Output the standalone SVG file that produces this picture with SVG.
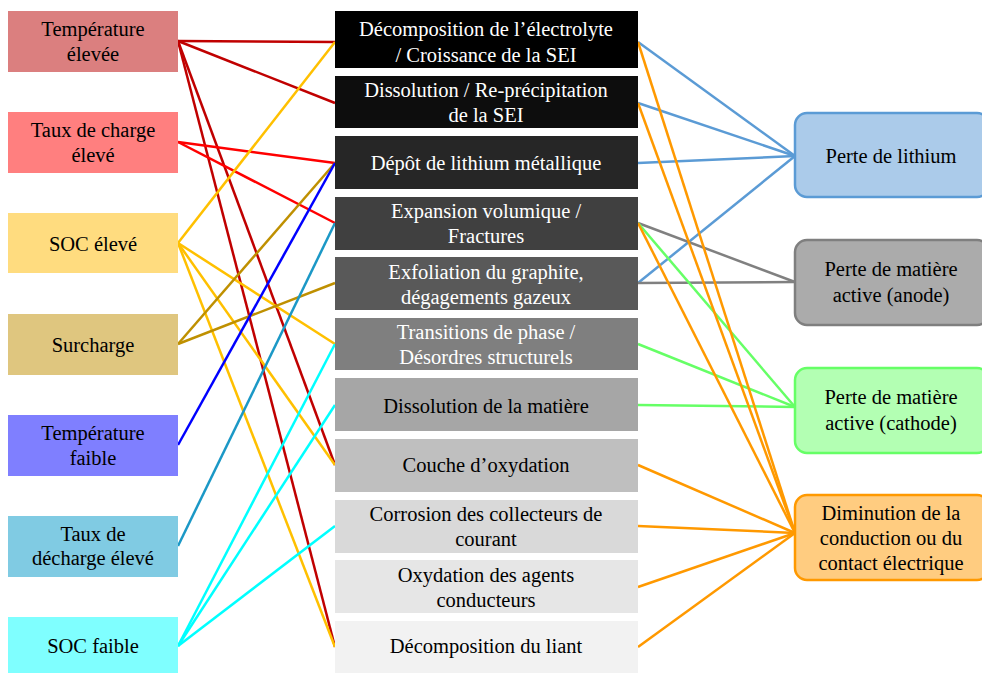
<svg xmlns="http://www.w3.org/2000/svg" width="982" height="673" viewBox="0 0 982 673">
<rect width="982" height="673" fill="#fff"/>
<g id="connectors" stroke-width="2.5" fill="none">
<line x1="178" y1="41" x2="335" y2="42" stroke="#C00000"/>
<line x1="178" y1="41" x2="335" y2="103" stroke="#C00000"/>
<line x1="178" y1="41" x2="335" y2="465" stroke="#C00000"/>
<line x1="178" y1="41" x2="335" y2="647" stroke="#C00000"/>
<line x1="178" y1="142" x2="335" y2="163" stroke="#FF0000"/>
<line x1="178" y1="142" x2="335" y2="223" stroke="#FF0000"/>
<line x1="178" y1="243" x2="335" y2="42" stroke="#FFC000"/>
<line x1="178" y1="243" x2="335" y2="344" stroke="#FFC000"/>
<line x1="178" y1="243" x2="335" y2="465" stroke="#FFC000"/>
<line x1="178" y1="243" x2="335" y2="647" stroke="#FFC000"/>
<line x1="178" y1="344" x2="335" y2="163" stroke="#BF9000"/>
<line x1="178" y1="344" x2="335" y2="283" stroke="#BF9000"/>
<line x1="178" y1="445" x2="335" y2="163" stroke="#0000FF"/>
<line x1="178" y1="546" x2="335" y2="223" stroke="#1B98C6"/>
<line x1="178" y1="646" x2="335" y2="344" stroke="#00FFFF"/>
<line x1="178" y1="646" x2="335" y2="405" stroke="#00FFFF"/>
<line x1="178" y1="646" x2="335" y2="526" stroke="#00FFFF"/>
<line x1="638" y1="42" x2="795" y2="156" stroke="#5B9BD5"/>
<line x1="638" y1="103" x2="795" y2="156" stroke="#5B9BD5"/>
<line x1="638" y1="163" x2="795" y2="156" stroke="#5B9BD5"/>
<line x1="638" y1="283" x2="795" y2="156" stroke="#5B9BD5"/>
<line x1="638" y1="223" x2="795" y2="282" stroke="#808080"/>
<line x1="638" y1="283" x2="795" y2="282" stroke="#808080"/>
<line x1="638" y1="223" x2="795" y2="407" stroke="#66FF66"/>
<line x1="638" y1="344" x2="795" y2="407" stroke="#66FF66"/>
<line x1="638" y1="405" x2="795" y2="407" stroke="#66FF66"/>
<line x1="638" y1="42" x2="795" y2="533" stroke="#FF9900"/>
<line x1="638" y1="103" x2="795" y2="533" stroke="#FF9900"/>
<line x1="638" y1="223" x2="795" y2="533" stroke="#FF9900"/>
<line x1="638" y1="465" x2="795" y2="533" stroke="#FF9900"/>
<line x1="638" y1="526" x2="795" y2="533" stroke="#FF9900"/>
<line x1="638" y1="587" x2="795" y2="533" stroke="#FF9900"/>
<line x1="638" y1="647" x2="795" y2="533" stroke="#FF9900"/>
</g>
<g font-family="Liberation Serif" font-size="20.5" text-anchor="middle" fill="#000">
<g id="temp-elevee"><rect x="8" y="11" width="170" height="61" fill="#DB7F7F"/><text x="93" y="36">Température</text><text x="93" y="61">élevée</text></g>
<g id="taux-charge"><rect x="8" y="112" width="170" height="61" fill="#FF7F7F"/><text x="93" y="137">Taux de charge</text><text x="93" y="162">élevé</text></g>
<g id="soc-eleve"><rect x="8" y="213" width="170" height="60" fill="#FFDC7F"/><text x="93" y="251">SOC élevé</text></g>
<g id="surcharge"><rect x="8" y="314" width="170" height="61" fill="#DFC67F"/><text x="93" y="352">Surcharge</text></g>
<g id="temp-faible"><rect x="8" y="415" width="170" height="61" fill="#7F7FFF"/><text x="93" y="440">Température</text><text x="93" y="465">faible</text></g>
<g id="taux-decharge"><rect x="8" y="516" width="170" height="61" fill="#80CBE3"/><text x="93" y="541">Taux de</text><text x="93" y="565">décharge élevé</text></g>
<g id="soc-faible"><rect x="8" y="617" width="170" height="61" fill="#7FFFFF"/><text x="93" y="653">SOC faible</text></g>
<g id="m1"><rect x="335" y="11" width="303" height="57" fill="#000000"/><text fill="#fff" x="486" y="36">Décomposition de l’électrolyte</text><text fill="#fff" x="486" y="62">/ Croissance de la SEI</text></g>
<g id="m2"><rect x="335" y="76" width="303" height="52" fill="#0D0D0D"/><text fill="#fff" x="486" y="97">Dissolution / Re-précipitation</text><text fill="#fff" x="486" y="122">de la SEI</text></g>
<g id="m3"><rect x="335" y="136" width="303" height="53" fill="#262626"/><text fill="#fff" x="486" y="170">Dépôt de lithium métallique</text></g>
<g id="m4"><rect x="335" y="197" width="303" height="53" fill="#404040"/><text fill="#fff" x="486" y="218">Expansion volumique /</text><text fill="#fff" x="486" y="243">Fractures</text></g>
<g id="m5"><rect x="335" y="257" width="303" height="53" fill="#595959"/><text fill="#fff" x="486" y="279">Exfoliation du graphite,</text><text fill="#fff" x="486" y="304">dégagements gazeux</text></g>
<g id="m6"><rect x="335" y="318" width="303" height="52" fill="#7F7F7F"/><text fill="#fff" x="486" y="339">Transitions de phase /</text><text fill="#fff" x="486" y="364">Désordres structurels</text></g>
<g id="m7"><rect x="335" y="378" width="303" height="53" fill="#A6A6A6"/><text x="486" y="413">Dissolution de la matière</text></g>
<g id="m8"><rect x="335" y="439" width="303" height="53" fill="#BFBFBF"/><text x="486" y="472">Couche d’oxydation</text></g>
<g id="m9"><rect x="335" y="500" width="303" height="53" fill="#D9D9D9"/><text x="486" y="521">Corrosion des collecteurs de</text><text x="486" y="546">courant</text></g>
<g id="m10"><rect x="335" y="560" width="303" height="53" fill="#E6E6E6"/><text x="486" y="582">Oxydation des agents</text><text x="486" y="607">conducteurs</text></g>
<g id="m11"><rect x="335" y="621" width="303" height="53" fill="#F2F2F2"/><text x="486" y="653">Décomposition du liant</text></g>
<g id="r1"><rect stroke-width="2.5" x="795" y="113" width="194" height="84" rx="12" fill="#ABCBEA" stroke="#5B9BD5"/><text x="891" y="163">Perte de lithium</text></g>
<g id="r2"><rect stroke-width="2.5" x="795" y="240" width="194" height="85" rx="12" fill="#ABABAB" stroke="#7F7F7F"/><text x="891" y="276">Perte de matière</text><text x="891" y="302">active (anode)</text></g>
<g id="r3"><rect stroke-width="2.5" x="795" y="368" width="194" height="85" rx="12" fill="#B3FFB3" stroke="#66FF66"/><text x="891" y="404">Perte de matière</text><text x="891" y="430">active (cathode)</text></g>
<g id="r4"><rect stroke-width="2.5" x="795" y="495" width="194" height="85" rx="12" fill="#FFCC80" stroke="#FF9900"/><text x="891" y="520">Diminution de la</text><text x="891" y="545">conduction ou du</text><text x="891" y="570">contact électrique</text></g>
</g>
</svg>
